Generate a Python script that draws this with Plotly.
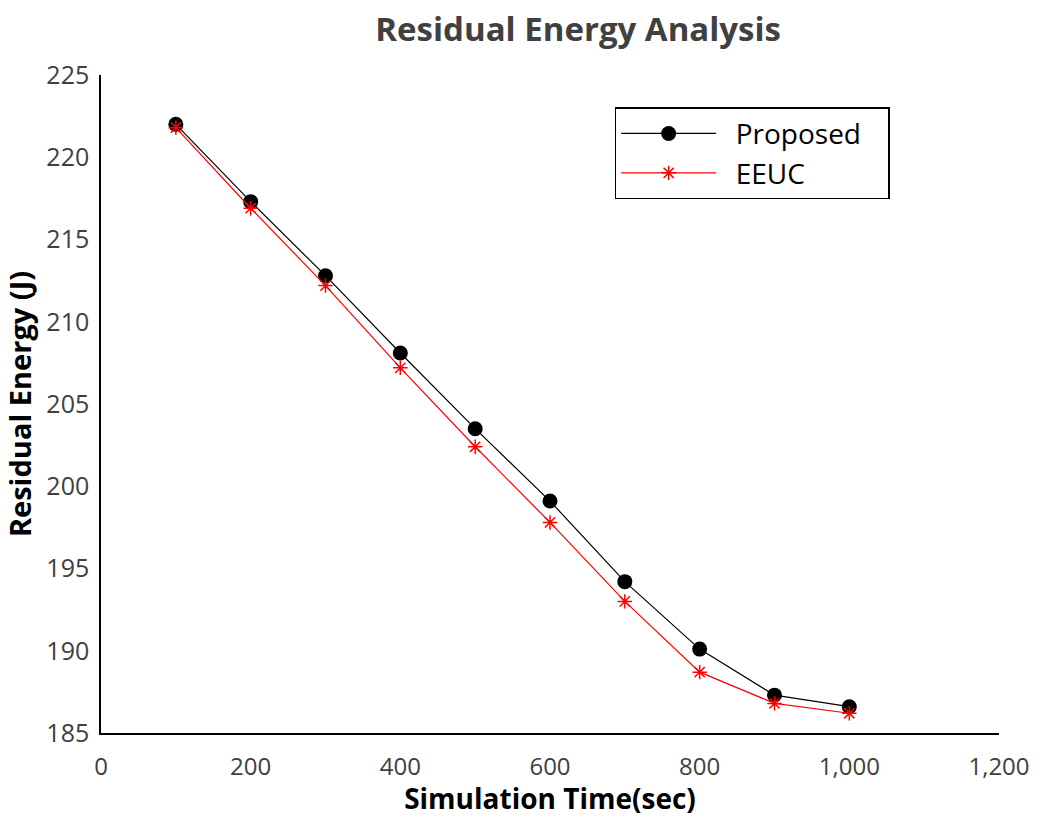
import plotly.graph_objects as go

time_sec = [100, 200, 300, 400, 500, 600, 700, 800, 900, 1000]
proposed = [222.0, 217.3, 212.8, 208.1, 203.5, 199.1, 194.2, 190.1, 187.3, 186.6]
eeuc = [221.8, 216.9, 212.2, 207.2, 202.4, 197.8, 193.0, 188.7, 186.8, 186.2]
x_ticks = [0, 200, 400, 600, 800, 1000, 1200]
x_tick_labels = ["0", "200", "400", "600", "800", "1,000", "1,200"]
y_ticks = [185, 190, 195, 200, 205, 210, 215, 220, 225]

NB = "\u00a0"
fig = go.Figure()
fig.add_trace(go.Scatter(
    x=time_sec, y=proposed, name=NB * 2 + "Proposed" + NB * 3, mode="lines+markers",
    line=dict(color="black", width=1.2),
    marker=dict(symbol="circle", size=15, color="black"),
))
fig.add_trace(go.Scatter(
    x=time_sec, y=eeuc, name=NB * 2 + "EEUC", mode="lines+markers",
    line=dict(color="red", width=1.2),
    marker=dict(symbol="asterisk-open", size=12, color="red",
                line=dict(color="red", width=1.5)),
))

font_family = "Open Sans, DejaVu Sans, sans-serif"
fig.update_layout(
    width=1038, height=817,
    paper_bgcolor="white", plot_bgcolor="white",
    margin=dict(l=101, r=39, t=75, b=84, autoexpand=False),
    title=dict(text="<b>Residual Energy Analysis</b>", x=0.557, xanchor="center",
               y=0.964, yanchor="middle",
               font=dict(family=font_family, size=33, color="#404040")),
    font=dict(family=font_family, color="#404040"),
    legend=dict(x=0.572, y=0.951, xanchor="left", yanchor="top",
                bordercolor="black", borderwidth=1.5, bgcolor="white",
                font=dict(size=28, color="black"),
                itemwidth=95, tracegroupgap=0),
    showlegend=True,
)
fig.update_xaxes(
    range=[0, 1200], tickvals=x_ticks, ticktext=x_tick_labels,
    showgrid=False, zeroline=False, showline=True, linecolor="black", linewidth=1.5,
    ticks="", ticklabelstandoff=11, tickfont=dict(size=24, color="#404040"),
    automargin=True,
    title=dict(text="<b>Simulation Time(sec)</b>", font=dict(size=28, color="black"), standoff=9),
)
fig.update_yaxes(
    range=[185, 225], tickvals=y_ticks,
    showgrid=False, zeroline=False, showline=True, linecolor="black", linewidth=1.5,
    ticks="", ticklabelstandoff=5, tickfont=dict(size=25, color="#404040"),
    automargin=True,
    title=dict(text="<b>Residual Energy (J)</b>", font=dict(size=29, color="black"), standoff=7),
)

fig.write_html("out.html", config={"displayModeBar": False},
               post_script="document.body.style.margin='0';")
